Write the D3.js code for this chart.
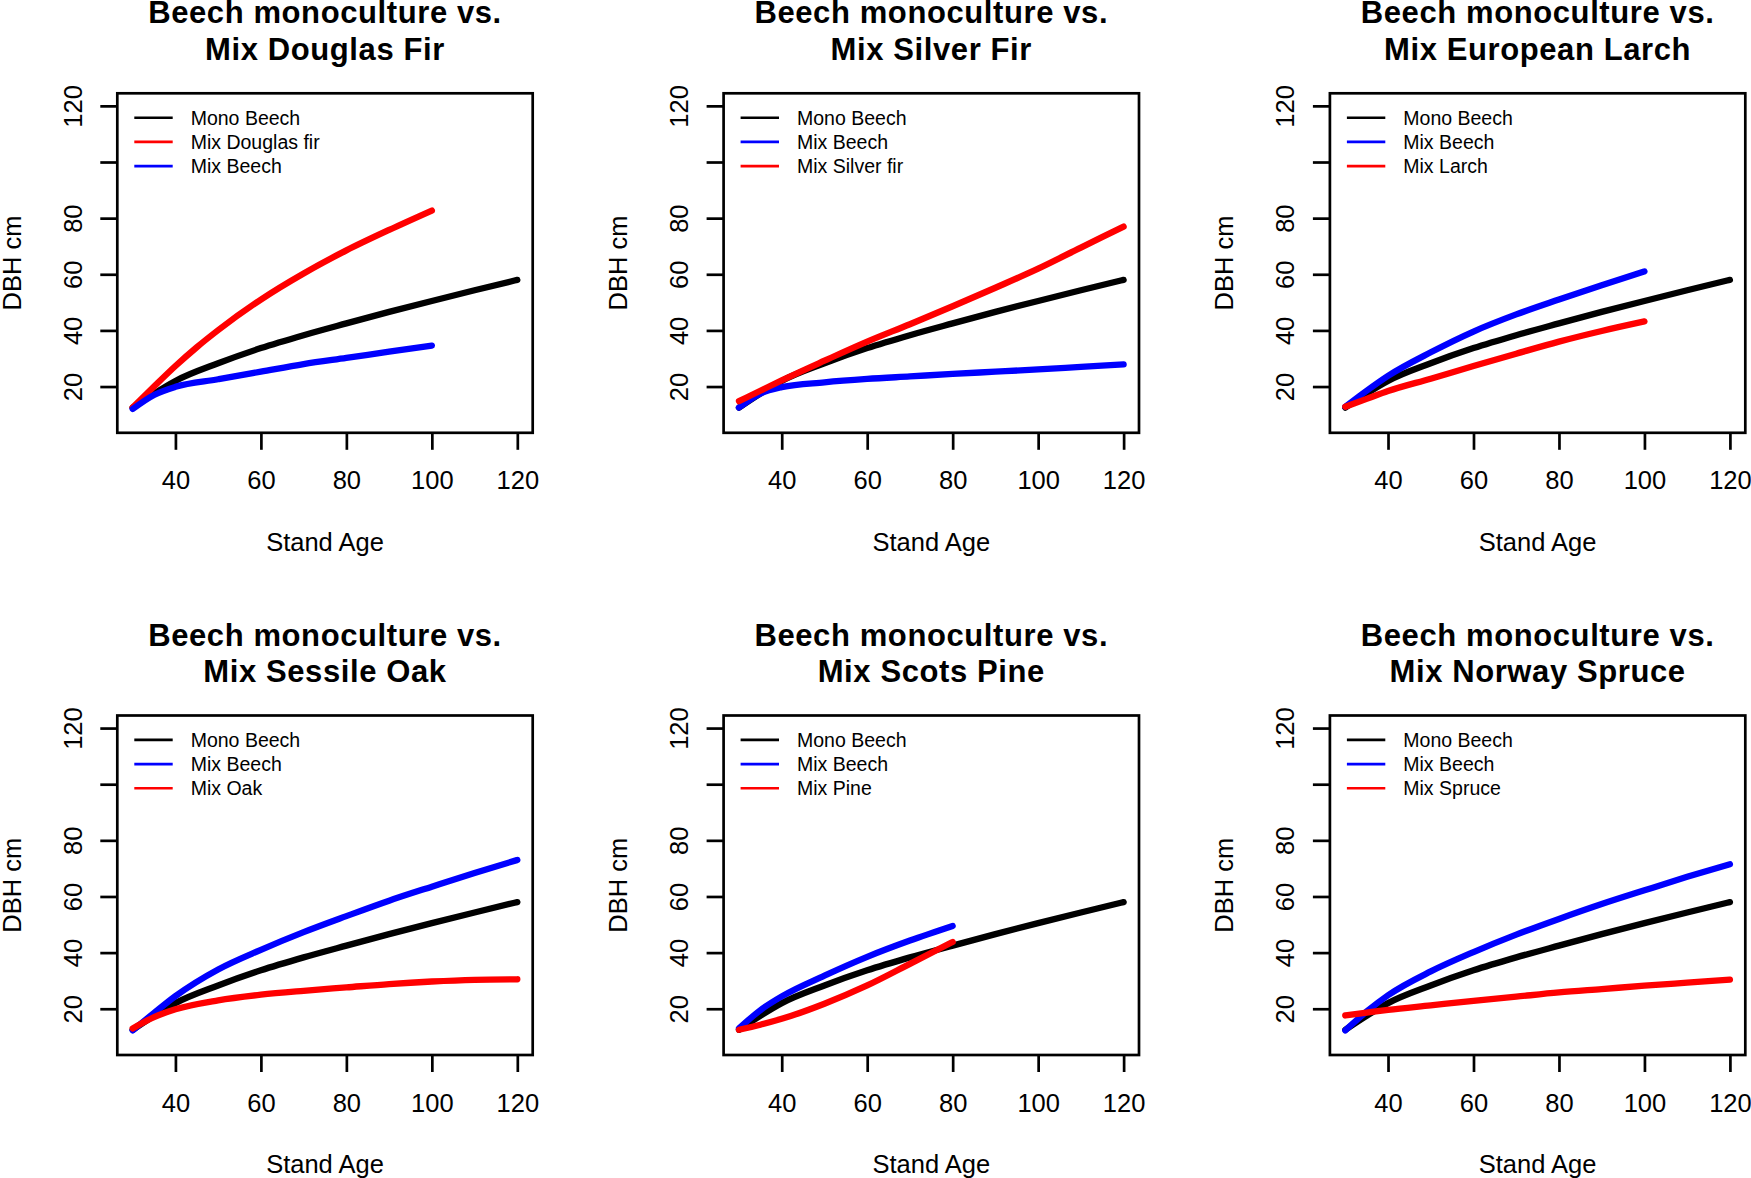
<!DOCTYPE html>
<html><head><meta charset="utf-8">
<script src="https://cdn.jsdelivr.net/npm/d3@7"></script>
<style>
body{margin:0;background:#fff}
svg{display:block}
text{font-family:"Liberation Sans",Arial,Helvetica,sans-serif;fill:#000}
</style>
</head><body><svg id="c" width="1751" height="1178"></svg>
<script>
// ---------- data ----------
const agesFull = [30,35,40,50,60,70,80,90,100,110,120];
const ages100  = [30,35,40,50,60,70,80,90,100];
const ages80   = [30,35,40,50,60,70,80];
const douglasAges = [30,35,40,45,50,60,70,80,90,100];

const monoBeech = [12.5,17.5,22,28.3,33.7,38.3,42.5,46.6,50.5,54.3,58];

const mixDouglasFir   = [12.5,20,27.3,34,40.1,51,60.3,68.5,75.8,82.7];
const mixBeechDouglas = [12,17,19.9,22.6,25.3,28,30.2,32.4,34.6];

const mixBeechSilver  = [12.5,17.5,19.8,21.5,22.7,23.6,24.5,25.3,26.1,27,27.9];
const mixSilverFir    = [14.8,18.5,22.2,29.2,36,42.2,48.6,55.2,62,69.5,77];

const mixBeechLarch   = [12.8,18.5,23.8,32.2,39.6,45.7,51,56.1,61];
const mixLarch        = [12.8,15.6,18.4,22.8,27.3,31.7,36,39.8,43.2];

const mixBeechOak     = [12.3,18.5,24.5,34,41,47.3,53,58.5,63.5,68.4,73];
const mixOak          = [13,17,19.8,23,25,26.4,27.6,28.8,29.7,30.3,30.5];

const mixBeechPine    = [13,19.5,24.4,31.8,38.5,44.3,49.5];
const mixPine         = [12.5,14.3,16.4,21.8,28.3,36,43.8];

const mixBeechSpruce  = [12.3,19,24.8,33.3,40.2,46.4,52,57.3,62.2,67,71.5];
const mixSpruce       = [17.6,18.6,19.6,21.2,22.8,24.3,25.8,27,28.2,29.3,30.4];

const titleLine1 = "Beech monoculture vs.";
const titleLine2 = ["Mix Douglas Fir","Mix Silver Fir","Mix European Larch","Mix Sessile Oak","Mix Scots Pine","Mix Norway Spruce"];
const xTicks = [40,60,80,100,120];
const yTicks = [20,40,60,80,100,120];
const yTickLabels = ["20","40","60","80","","120"];
const xLabel = "Stand Age";
const yLabel = "DBH cm";

const BLACK = "#000000", RED = "#ff0000", BLUE = "#0000ff";

// series tables built from the arrays above (legend order = draw order)
const panelSeries = [
  [{n:"Mono Beech",c:BLACK,x:agesFull,y:monoBeech},{n:"Mix Douglas fir",c:RED,x:douglasAges,y:mixDouglasFir},{n:"Mix Beech",c:BLUE,x:ages100,y:mixBeechDouglas}],
  [{n:"Mono Beech",c:BLACK,x:agesFull,y:monoBeech},{n:"Mix Beech",c:BLUE,x:agesFull,y:mixBeechSilver},{n:"Mix Silver fir",c:RED,x:agesFull,y:mixSilverFir}],
  [{n:"Mono Beech",c:BLACK,x:agesFull,y:monoBeech},{n:"Mix Beech",c:BLUE,x:ages100,y:mixBeechLarch},{n:"Mix Larch",c:RED,x:ages100,y:mixLarch}],
  [{n:"Mono Beech",c:BLACK,x:agesFull,y:monoBeech},{n:"Mix Beech",c:BLUE,x:agesFull,y:mixBeechOak},{n:"Mix Oak",c:RED,x:agesFull,y:mixOak}],
  [{n:"Mono Beech",c:BLACK,x:agesFull,y:monoBeech},{n:"Mix Beech",c:BLUE,x:ages80,y:mixBeechPine},{n:"Mix Pine",c:RED,x:ages80,y:mixPine}],
  [{n:"Mono Beech",c:BLACK,x:agesFull,y:monoBeech},{n:"Mix Beech",c:BLUE,x:agesFull,y:mixBeechSpruce},{n:"Mix Spruce",c:RED,x:agesFull,y:mixSpruce}]
];

// ---------- layout ----------
const svg = d3.select("#c");
const boxW = 415.4, boxH = 339.5;
const left0 = 117.3, top0 = 93.3, colPitch = 606.3, rowPitch = 622.2;

const x = d3.scaleLinear().domain([26.4,123.6]).range([0,boxW]);
const y = d3.scaleLinear().domain([3.52,124.48]).range([boxH,0]);

panelSeries.forEach((series,i)=>{
  const col = i%3, row = Math.floor(i/3);
  const g = svg.append("g").attr("transform",`translate(${left0+col*colPitch},${top0+row*rowPitch})`);

  // lines
  const line = d3.line().x(d=>x(d[0])).y(d=>y(d[1])).curve(d3.curveMonotoneX);
  series.forEach(s=>{
    g.append("path").datum(s.x.map((a,k)=>[a,s.y[k]]))
      .attr("d",line).attr("fill","none").attr("stroke",s.c)
      .attr("stroke-width",6.3).attr("stroke-linecap","round").attr("stroke-linejoin","round");
  });

  // box
  g.append("rect").attr("x",0).attr("y",0).attr("width",boxW).attr("height",boxH)
    .attr("fill","none").attr("stroke","#000").attr("stroke-width",2.7);

  // x axis
  const xa = g.append("g").attr("transform",`translate(0,${boxH})`)
    .call(d3.axisBottom(x).tickValues(xTicks).tickSize(17).tickFormat(d3.format("d")));
  xa.select(".domain").remove();
  xa.selectAll("line").attr("stroke","#000").attr("stroke-width",2.7);
  xa.selectAll("text").attr("y",56.6).attr("dy",0).attr("font-size",25.5)
    .attr("font-family","Liberation Sans, Arial, sans-serif").attr("fill","#000");

  // y axis
  const ya = g.append("g")
    .call(d3.axisLeft(y).tickValues(yTicks).tickSize(17).tickFormat((d,k)=>yTickLabels[k]));
  ya.select(".domain").remove();
  ya.selectAll("line").attr("stroke","#000").attr("stroke-width",2.7);
  ya.selectAll("text").attr("transform","rotate(-90)").attr("x",0).attr("y",-35.6).attr("dy",0)
    .attr("text-anchor","middle").attr("font-size",25.5)
    .attr("font-family","Liberation Sans, Arial, sans-serif").attr("fill","#000");

  // axis titles
  g.append("text").attr("x",boxW/2).attr("y",boxH+118.3).attr("text-anchor","middle")
    .attr("font-size",25.5).text(xLabel);
  g.append("text").attr("transform",`translate(-96.5,${boxH/2}) rotate(-90)`).attr("text-anchor","middle")
    .attr("font-size",25.5).text(yLabel);

  // title
  g.append("text").attr("x",boxW/2).attr("y",-70).attr("text-anchor","middle")
    .attr("font-size",31).attr("letter-spacing","0.6px").attr("font-weight","bold").text(titleLine1);
  g.append("text").attr("x",boxW/2).attr("y",-33.3).attr("text-anchor","middle")
    .attr("font-size",31).attr("letter-spacing","0.6px").attr("font-weight","bold").text(titleLine2[i]);

  // legend
  series.forEach((s,k)=>{
    const ly = 24.4 + k*24.2;
    g.append("line").attr("x1",17).attr("x2",55.4).attr("y1",ly).attr("y2",ly)
      .attr("stroke",s.c).attr("stroke-width",2.6);
    g.append("text").attr("x",73.4).attr("y",ly).attr("dy","0.36em").attr("font-size",19.5).text(s.n);
  });
});
</script></body></html>
